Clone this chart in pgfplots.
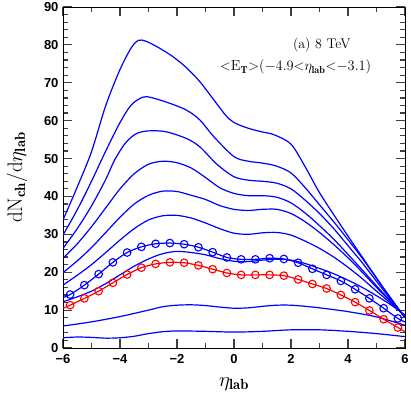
\documentclass[border=0pt]{standalone}
\usepackage{pgfplots}
\pgfplotsset{compat=1.18}
\usepackage{fontspec}
\newfontfamily\tickfont{Liberation Sans}
\begin{document}
\begin{tikzpicture}
\useasboundingbox (-63pt,-48pt) rectangle (348pt,348pt);
\begin{axis}[
  at={(0pt,0pt)}, anchor=south west,
  width=342pt, height=341pt, scale only axis,
  xmin=-6, xmax=6, ymin=0, ymax=90,
  xtick={-6,-4,-2,0,2,4,6},
  xticklabels={−6,−4,−2,0,2,4,6},
  ytick={0,10,20,30,40,50,60,70,80,90},
  yticklabels={0,10,20,30,40,50,60,70,80,90},
  minor x tick num=1, minor y tick num=4,
  tick align=inside,
  xtick pos=both, ytick pos=both,
  major tick length=9pt, minor tick length=5pt,
  every tick/.style={black!75, line width=1.2pt},
  axis line style={line width=0.9pt},
  tick label style={font=\tickfont\bfseries\fontsize{13}{14}\selectfont},
  xticklabel style={yshift=-3pt},
  yticklabel style={xshift=-1pt},
  xlabel={$\eta_{\mathbf{lab}}$},
  ylabel={$\mathrm{dN_{\mathbf{ch}}/d}\eta_{\mathbf{lab}}$},
  label style={font=\fontsize{21}{22}\selectfont},
  xlabel style={at={(axis description cs:0.5,-0.105)}, anchor=center},
  ylabel style={at={(axis description cs:-0.135,0.5)}, anchor=center},
  every axis plot/.append style={line width=1.2pt},
]
% c1
\addplot[blue, smooth] coordinates {(-6,33.8)(-5.5,42.5)(-5,51.8)(-4.5,64.0)(-4,73.5)(-3.6,79.3)(-3.35,81.2)(-3.1,81.0)(-2.7,79.5)(-2.2,77.2)(-1.7,74.2)(-1.2,70.3)(-0.7,65.4)(-0.3,61.5)(0,59.5)(0.5,58)(1,57)(1.4,56.3)(2,53.8)(2.5,47.8)(3,41)(3.7,32.9)(4.5,24)(5,18.5)(5.5,13)(6,8)};
% c2
\addplot[blue, smooth] coordinates {(-6,29.8)(-5.5,36.5)(-5,44)(-4.5,52)(-4,59.5)(-3.6,64.2)(-3.2,66.2)(-2.9,66.1)(-2.26,64.6)(-1.67,62.8)(-1.2,60.2)(-0.7,55.7)(0,50.5)(0.5,49.3)(1,48.8)(1.5,48)(2,46.2)(2.5,42.3)(3,37.8)(3.5,33.3)(4,28.6)(4.5,23.7)(5,18.4)(5.5,13.2)(6,8)};
% c3
\addplot[blue, smooth] coordinates {(-6,26.3)(-5.5,31.5)(-5,37.5)(-4.5,44.5)(-4.19,49.6)(-3.8,54.2)(-3.42,56.6)(-3.0,57.3)(-2.4,57.1)(-1.67,55.3)(-1.2,53.1)(-0.6,48.5)(0,45.2)(0.5,44.3)(1,44)(1.5,43.5)(2,42)(2.5,39)(3,35.5)(3.5,31.5)(4,27)(4.5,22.5)(5,17.6)(5.5,12.8)(6,8.1)};
% c4
\addplot[blue, smooth] coordinates {(-6,23.7)(-5.5,27.5)(-5,32)(-4.5,37)(-4,42)(-3.5,46)(-3,48.5)(-2.5,49.3)(-2,48.9)(-1.5,47.5)(-1,45)(-0.5,42.3)(0,40.8)(0.5,40.2)(1,40.2)(1.5,39.8)(2,38.3)(2.5,35.6)(3,32.3)(3.5,28.7)(4,24.7)(4.5,20.6)(5,16.4)(5.5,12.3)(6,8.2)};
% c5
\addplot[blue, smooth] coordinates {(-6,19.9)(-5.5,23)(-5,26.5)(-4.5,30.5)(-4,34.5)(-3.5,38)(-3,40.3)(-2.5,41.4)(-2,41.3)(-1.5,40.3)(-1,39.2)(-0.5,37.6)(0,36.6)(0.5,36.3)(1,36.6)(1.5,36.6)(2,35.5)(2.5,33.3)(3,30.5)(3.5,27.3)(4,23.8)(4.5,20)(5,16)(5.5,12.2)(6,8.3)};
% c6
\addplot[blue, smooth] coordinates {(-6,16.6)(-5.5,19.2)(-5,22)(-4.5,25.2)(-4,28.5)(-3.5,31.5)(-3,33.8)(-2.5,34.9)(-2,35)(-1.5,34.3)(-1,33)(-0.5,31.5)(0,30.3)(0.5,30)(1,30.4)(1.5,30.5)(2,29.8)(2.5,28.2)(3,26.3)(3.5,24)(4,21.3)(4.5,18.3)(5,15)(5.5,11.8)(6,8.5)};
% c7
\addplot[blue, smooth] coordinates {(-6,12.2)(-5.5,13.5)(-5,15.0)(-4.5,17.0)(-4,19.3)(-3.5,21.6)(-3,23.5)(-2.5,24.9)(-2,25.5)(-1.5,25.2)(-1,24.6)(-0.5,23.6)(0,22.9)(0.5,22.8)(1,23.2)(1.5,23.4)(2,23.2)(2.5,22.3)(3,21.0)(3.5,19.6)(4,17.9)(4.5,16.0)(5,13.8)(5.5,11.4)(6,8.7)};
% c8
\addplot[blue, smooth] coordinates {(-6,5.8)(-5,6.9)(-4,8.3)(-3,10.0)(-2.5,10.9)(-2,11.3)(-1.5,11.4)(-1,11.2)(-0.5,10.8)(0,10.5)(0.5,10.6)(1,11.0)(1.5,11.3)(2,11.3)(2.5,11.0)(3,10.6)(4,9.6)(5,8.2)(6,6.0)};
% c9
\addplot[blue, smooth] coordinates {(-6,2.7)(-5.5,2.9)(-5,2.8)(-4.5,2.6)(-4,2.7)(-3.5,3.1)(-3,3.8)(-2.5,4.3)(-2,4.5)(-1,4.4)(0,4.2)(1,4.4)(2,4.8)(3,4.8)(4,4.4)(5,3.8)(6,3.0)};
% blue with circles
\addplot[blue, smooth] coordinates {(-6,13.3)(-5.75,14.1)(-5.25,16.6)(-4.75,19.5)(-4.25,22.6)(-3.75,25.2)(-3.25,26.7)(-2.75,27.5)(-2.25,27.7)(-1.75,27.4)(-1.25,26.6)(-0.75,25.3)(-0.25,23.9)(0.25,23.4)(0.75,23.4)(1.25,23.7)(1.75,23.5)(2.25,22.5)(2.75,20.9)(3.25,19.3)(3.75,17.7)(4.25,15.5)(4.75,13.1)(5.25,10.5)(5.75,7.8)(6,6.9)};
\addplot[blue, only marks, mark=o, mark size=3.8pt, mark options={line width=1.1pt}] coordinates {(-5.75,14.1)(-5.25,16.6)(-4.75,19.5)(-4.25,22.6)(-3.75,25.2)(-3.25,26.7)(-2.75,27.5)(-2.25,27.7)(-1.75,27.4)(-1.25,26.6)(-0.75,25.3)(-0.25,23.9)(0.25,23.4)(0.75,23.4)(1.25,23.7)(1.75,23.5)(2.25,22.5)(2.75,20.9)(3.25,19.3)(3.75,17.7)(4.25,15.5)(4.75,13.1)(5.25,10.5)(5.75,7.8)};
% red with circles
\addplot[red, smooth] coordinates {(-6,10.5)(-5.75,11.3)(-5.25,13.1)(-4.75,15.0)(-4.25,17.2)(-3.75,19.4)(-3.25,21.2)(-2.75,22.2)(-2.25,22.6)(-1.75,22.5)(-1.25,21.8)(-0.75,20.8)(-0.25,19.8)(0.25,19.3)(0.75,19.3)(1.25,19.3)(1.75,19.1)(2.25,18.1)(2.75,16.9)(3.25,15.7)(3.75,14.0)(4.25,12.1)(4.75,9.9)(5.25,7.6)(5.75,5.4)(6,4.3)};
\addplot[red, only marks, mark=o, mark size=3.8pt, mark options={line width=1.1pt}] coordinates {(-5.75,11.3)(-5.25,13.1)(-4.75,15.0)(-4.25,17.2)(-3.75,19.4)(-3.25,21.2)(-2.75,22.2)(-2.25,22.6)(-1.75,22.5)(-1.25,21.8)(-0.75,20.8)(-0.25,19.8)(0.25,19.3)(0.75,19.3)(1.25,19.3)(1.75,19.1)(2.25,18.1)(2.75,16.9)(3.25,15.7)(3.75,14.0)(4.25,12.1)(4.75,9.9)(5.25,7.6)(5.75,5.4)};
\node[font=\fontsize{14}{15}\selectfont] at (axis cs:3.08,80) {(a)~8~TeV};
\node[font=\fontsize{14.5}{15}\selectfont] at (axis cs:2.16,74.1) {${<}\mathrm{E}_{\mathbf{T}}{>}(-4.9{<}\eta_{\mathbf{lab}}{<}{-3.1})$};
\end{axis}
\end{tikzpicture}
\end{document}
